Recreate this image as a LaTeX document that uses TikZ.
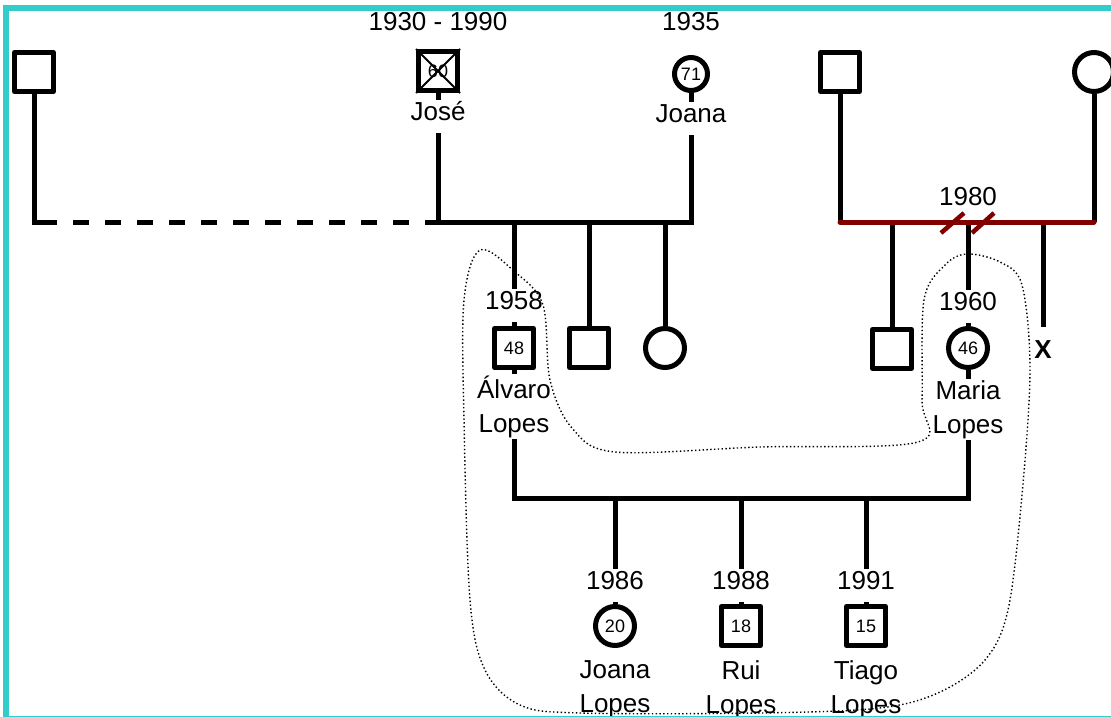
\documentclass[tikz,border=0pt]{standalone}
\usepackage{fontspec}
\setmainfont{Liberation Sans}
\usetikzlibrary{positioning}
\definecolor{frame}{RGB}{51,204,204}
\definecolor{divorce}{RGB}{128,0,0}
\newcommand{\lbfont}{\fontsize{26}{34}\selectfont}
\newcommand{\agefont}{\fontsize{18}{20}\selectfont}

\begin{document}
\begin{tikzpicture}[
x=1pt,y=-1pt,
node distance=6pt,
male/.style={draw,line width=5pt,line join=round,fill=white,minimum size=39pt,inner sep=0pt,font=\agefont},
female/.style={draw,circle,line width=5pt,fill=white,minimum size=39pt,inner sep=0pt,font=\agefont},
line/.style={line width=5pt},
yr/.style={fill=white,inner sep=1.5pt,text height=19pt,text depth=11pt,font=\lbfont},
nm/.style={fill=white,inner sep=1.5pt,align=center,font=\lbfont},
hull/.style={line width=1.4pt,dash pattern=on 1.4pt off 2.4pt}
]
\useasboundingbox (0,0) rectangle (1111,717);
\clip (0,0) rectangle (1111,717);

% grandparents
\node[male] (jpart) at (34,72) {};
\node[male] (jose) at (438,71) {60};
\node[female,minimum size=33pt] (joana) at (691,74) {71};
\node[male] (mfa) at (840,72) {};
\node[female] (mmo) at (1094,72) {};
\draw[line width=2pt] (jose.north west) -- (jose.south east) (jose.north east) -- (jose.south west);

% children
\node[male] (alvaro) at (514,348) {48};
\node[male] (bro) at (589,348) {};
\node[female] (sis) at (665,348) {};
\node[male] (hbro) at (892,349) {};
\node[female] (maria) at (968,348) {46};
\node[font=\lbfont\bfseries,inner sep=0pt] (lost) at (1043,350) {X};

% grandchildren
\node[female] (joanal) at (615,626) {20};
\node[male] (rui) at (741,626) {18};
\node[male] (tiago) at (866,626) {15};

\coordinate (m1) at (438,222);
\coordinate (m2) at (840,222);
\coordinate (m3) at (514,498);
\coordinate (div) at (968,222);

% José and Joana
\draw[line] (jose) -- (jose |- m1) -- (joana |- m1) -- (joana);
\draw[line] (jpart) -- (jpart |- m1) -- ++(23,0);
\draw[line,dash pattern=on 16pt off 16pt,dash phase=16pt] ([xshift=23pt]jpart |- m1) -- (m1);
\foreach \c in {alvaro,bro,sis}
  \draw[line] (\c |- m1) -- (\c);

% Maria's parents, divorced 1980
\draw[line] (mfa) -- (mfa |- m2);
\draw[line] (mmo) -- (mmo |- m2);
\foreach \c in {hbro,maria}
  \draw[line] (\c |- m2) -- (\c);
\draw[line] (lost |- m2) -- ([yshift=14pt]lost.north);
\draw[line,divorce,line cap=round] (mfa |- m2) -- (mmo |- m2);
\draw[line width=4.5pt,divorce] ([shift={(-27,11)}]div) -- ++(23,-20);
\draw[line width=4.5pt,divorce] ([shift={(4,11)}]div) -- ++(22,-20);

% Álvaro and Maria
\draw[line] (alvaro) -- (alvaro |- m3) -- (maria |- m3) -- (maria);
\foreach \c in {joanal,rui,tiago}
  \draw[line] (\c |- m3) -- (\c);

% labels
\node[yr,above=of jose] {1930 - 1990};
\node[yr,below=7pt of jose] {José};
\node[yr,above=12pt of joana] {1935};
\node[yr,below=9pt of joana] {Joana};
\node[yr,fill=none,above=4pt of div] {1980};
\node[yr,above=4pt of alvaro] {1958};
\node[nm,below=4pt of alvaro] {Álvaro\\Lopes};
\node[yr,above=3pt of maria] {1960};
\node[nm,below=9pt of maria] {Maria\\Lopes};
\node[yr,above=2pt of joanal] {1986};
\node[nm,below=11pt of joanal] {Joana\\Lopes};
\node[yr,above=2pt of rui] {1988};
\node[nm,below=11pt of rui] {Rui\\Lopes};
\node[yr,above=2pt of tiago] {1991};
\node[nm,below=11pt of tiago] {Tiago\\Lopes};

% household
\draw[hull] plot[smooth cycle,tension=0.55] coordinates {
  (480,250) (515,272) (543,305) (550,380) (572,428) (615,452) (760,447)
  (918,442) (922,400) (924,300) (945,265) (967,254) (1000,262) (1022,285)
  (1030,370) (1022,495) (1008,610) (985,660) (940,692) (880,708) (760,713)
  (580,713) (520,705) (485,670) (470,600) (464,420) (464,300)};

% frame
\draw[frame,line width=6pt] (6,8.5) rectangle (1130,718.5);
\end{tikzpicture}
\end{document}
